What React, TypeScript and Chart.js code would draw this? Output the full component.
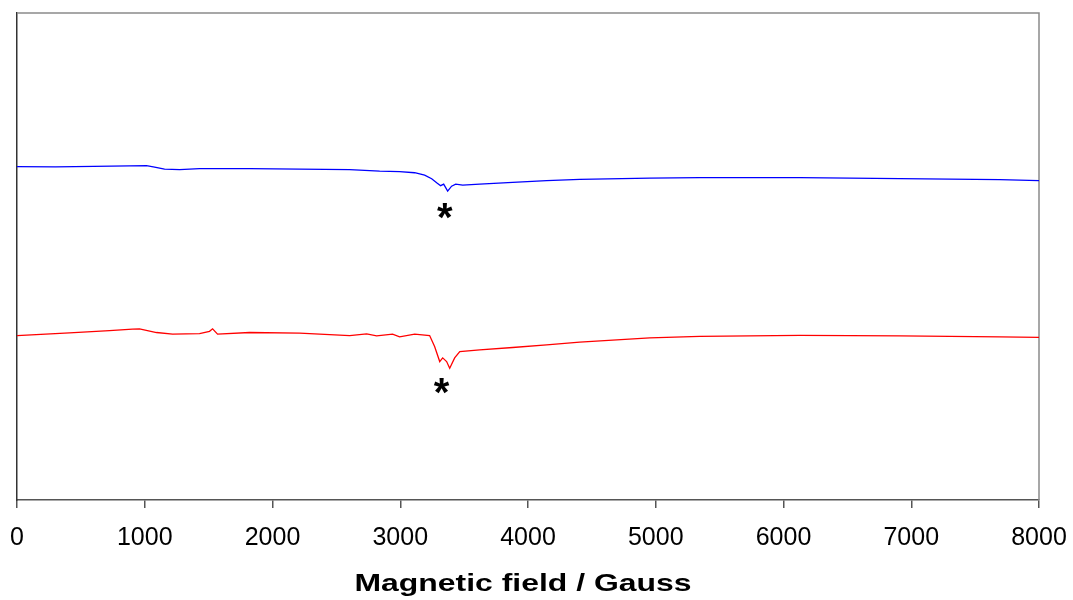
import React, { useEffect, useRef } from "react";
import { Chart, registerables } from "chart.js";

Chart.register(...registerables);

const xTickValues = [0, 1000, 2000, 3000, 4000, 5000, 6000, 7000, 8000];
const xTitle = "Magnetic field / Gauss";

const blueField = [0, 300, 600, 881, 1014, 1077, 1155, 1273, 1429, 1821, 2212, 2604, 2839, 2995, 3113, 3191, 3246, 3285, 3316, 3340, 3371, 3402, 3434, 3489, 3622, 3880, 4146, 4405, 4953, 5344, 6128, 6911, 7694, 8000];
const blueSignal = [68.45, 68.4, 68.5, 68.6, 68.65, 68.35, 67.93, 67.83, 68.04, 68.04, 67.93, 67.83, 67.52, 67.42, 67.2, 66.7, 65.98, 65.16, 64.54, 64.85, 63.41, 64.44, 64.85, 64.64, 64.85, 65.22, 65.57, 65.84, 66.08, 66.19, 66.19, 65.98, 65.78, 65.57];

const redField = [0, 411, 724, 904, 959, 1092, 1218, 1429, 1507, 1531, 1570, 1821, 2212, 2604, 2737, 2815, 2940, 2995, 3113, 3230, 3269, 3309, 3332, 3363, 3387, 3426, 3466, 3622, 3880, 4146, 4405, 4953, 5344, 6128, 6911, 7694, 8000];
const redSignal = [33.77, 34.33, 34.8, 35.09, 35.15, 34.39, 34.06, 34.18, 34.63, 35.15, 34.06, 34.39, 34.26, 33.77, 34.12, 33.71, 34.06, 33.5, 34.06, 33.77, 31.51, 28.43, 29.19, 28.43, 27.07, 29.19, 30.48, 30.83, 31.31, 31.86, 32.42, 33.3, 33.61, 33.81, 33.71, 33.5, 33.4];

const markerLabels = ["*", "*"];
const markerField = [3348, 3324];
const markerSignal = [59.4, 23.4];

const FONT = "'Liberation Sans', Arial, sans-serif";

const framePlugin = {
  id: "frame",
  beforeDatasetsDraw(chart: any) {
    const { ctx, chartArea } = chart;
    ctx.save();
    ctx.strokeStyle = "#8a8a8a";
    ctx.lineWidth = 1.5;
    ctx.beginPath();
    ctx.moveTo(chartArea.left, chartArea.top);
    ctx.lineTo(chartArea.right, chartArea.top);
    ctx.lineTo(chartArea.right, chartArea.bottom);
    ctx.stroke();
    ctx.restore();
  },
};

const markerPlugin = {
  id: "markers",
  afterDatasetsDraw(chart: any) {
    const { ctx } = chart;
    const xs = chart.scales.x;
    const ys = chart.scales.y;
    ctx.save();
    ctx.fillStyle = "#000";
    ctx.font = `bold 40px ${FONT}`;
    ctx.textAlign = "center";
    ctx.textBaseline = "alphabetic";
    markerLabels.forEach((t, i) => {
      const m = ctx.measureText(t);
      const px = xs.getPixelForValue(markerField[i]);
      const py = ys.getPixelForValue(markerSignal[i]);
      const off = (m.actualBoundingBoxAscent - m.actualBoundingBoxDescent) / 2;
      ctx.fillText(t, px, py + off);
    });
    ctx.restore();
  },
};

const titlePlugin = {
  id: "xtitle",
  afterDraw(chart: any) {
    const { ctx, chartArea } = chart;
    ctx.save();
    ctx.fillStyle = "#000";
    ctx.font = `bold 24px ${FONT}`;
    ctx.textAlign = "center";
    ctx.textBaseline = "middle";
    const cx = (chartArea.left + chartArea.right) / 2 - 5;
    ctx.translate(cx, 584);
    ctx.scale(1.33, 1);
    ctx.fillText(xTitle, 0, 0);
    ctx.restore();
  },
};

export default function App() {
  const ref = useRef<HTMLCanvasElement | null>(null);
  useEffect(() => {
    if (!ref.current) return;
    const chart = new Chart(ref.current, {
      type: "line",
      data: {
        datasets: [
          {
            data: blueField.map((x, i) => ({ x, y: blueSignal[i] })),
            borderColor: "#0000ff",
            borderWidth: 1.3,
            pointRadius: 0,
            tension: 0,
          },
          {
            data: redField.map((x, i) => ({ x, y: redSignal[i] })),
            borderColor: "#ff0000",
            borderWidth: 1.3,
            pointRadius: 0,
            tension: 0,
          },
        ],
      },
      options: {
        responsive: false,
        animation: false,
        layout: { padding: { left: 17, right: 34, top: 13, bottom: 0 } },
        plugins: { legend: { display: false }, tooltip: { enabled: false } },
        scales: {
          x: {
            type: "linear",
            min: 0,
            max: 8000,
            afterBuildTicks: (axis: any) => {
              axis.ticks = xTickValues.map((v) => ({ value: v }));
            },
            afterFit: (axis: any) => {
              axis.height = 100;
              axis.paddingLeft = 0;
              axis.paddingRight = 0;
            },
            ticks: {
              font: { family: FONT, size: 25 },
              color: "#000",
              padding: 15,
              maxRotation: 0,
              callback: (v: any) => String(v),
            },
            grid: { display: true, drawOnChartArea: false, drawTicks: true, tickLength: 8, color: "#555", lineWidth: 1.5 },
            border: { display: true, color: "#555", width: 1.5 },
          },
          y: {
            min: 0,
            max: 100,
            ticks: { display: false },
            grid: { display: false, drawTicks: false },
            border: { display: true, color: "#333", width: 1.5 },
          },
        },
      },
      plugins: [framePlugin, markerPlugin, titlePlugin],
    });
    return () => chart.destroy();
  }, []);
  return (
    <div style={{ position: "fixed", left: 0, top: 0, width: 1073, height: 600, background: "#fff" }}>
      <canvas ref={ref} width={1073} height={600} style={{ display: "block" }} />
    </div>
  );
}
